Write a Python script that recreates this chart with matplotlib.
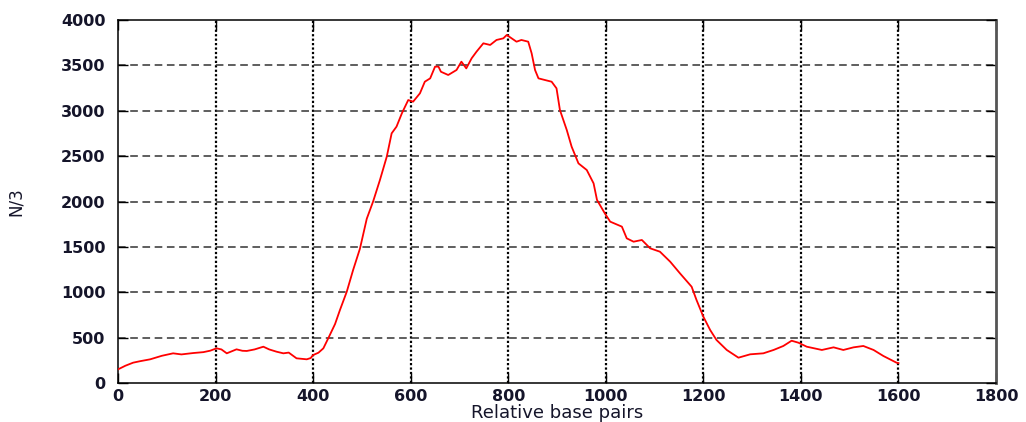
import matplotlib
matplotlib.use("Agg")
import matplotlib.pyplot as plt

# Data
base_pairs = [0, 15, 31, 45, 66, 90, 113, 130, 154, 175, 189, 202, 212, 223, 243, 255,
              264, 280, 298, 310, 325, 339, 350, 366, 387, 395, 400, 411, 421, 431, 445,
              455, 469, 482, 496, 510, 523, 537, 551, 561, 571, 582, 595, 605, 619, 629,
              640, 650, 657, 662, 677, 694, 704, 714, 725, 735, 749, 763, 776, 790, 797,
              807, 817, 827, 841, 848, 855, 862, 875, 889, 899, 906, 920, 930, 944, 961,
              975, 982, 998, 1009, 1033, 1043, 1057, 1074, 1091, 1111, 1132, 1152, 1176,
              1186, 1200, 1214, 1227, 1248, 1272, 1296, 1323, 1344, 1364, 1381, 1395,
              1412, 1443, 1467, 1487, 1508, 1528, 1549, 1569, 1596, 1600]
n3_values = [150, 190, 224, 240, 261, 300, 327, 315, 330, 340, 356, 382, 370, 327, 371, 355,
             353, 370, 400, 370, 345, 327, 335, 272, 261, 275, 308, 334, 382, 492, 650,
             804, 1006, 1245, 1480, 1810, 2000, 2237, 2494, 2751, 2825, 2972, 3118, 3100, 3192, 3320,
             3357, 3486, 3486, 3430, 3394, 3449, 3541, 3467, 3578, 3651, 3743, 3725, 3780, 3798, 3835,
             3798, 3761, 3780, 3761, 3633, 3449, 3357, 3339, 3320, 3247, 3008, 2788, 2604, 2420, 2347,
             2200, 2017, 1870, 1778, 1723, 1594, 1557, 1576, 1484, 1447, 1337, 1209, 1061,
             915, 731, 584, 474, 364, 279, 316, 327, 364, 408, 466, 444,
             400, 364, 393, 364, 393, 408, 364, 298, 224, 220]
x_ticks = [0, 200, 400, 600, 800, 1000, 1200, 1400, 1600, 1800]
y_ticks = [0, 500, 1000, 1500, 2000, 2500, 3000, 3500, 4000]
x_label = "Relative base pairs"
y_label = "N/3"

plt.rcParams['font.family'] = ['DejaVu Sans']
fig = plt.figure(figsize=(10.26, 4.22), dpi=100)
ax = fig.add_axes([118/1026, 39/422, 878/1026, 363/422])
ax.plot(base_pairs, n3_values, color='red', lw=1.3, zorder=3)

ax.set_xlim(0, 1800)
ax.set_ylim(0, 4000)
ax.set_xticks(x_ticks)
ax.set_yticks(y_ticks)

# grid: vertical dotted, horizontal dashed
for xv in x_ticks[1:-1]:
    ax.axvline(xv, color='black', lw=1.6, linestyle=(0, (1, 1)), zorder=1)
for yv in y_ticks[1:-1]:
    ax.axhline(yv, color='#333333', lw=1.1, linestyle=(0, (5, 3)), zorder=1)

ax.tick_params(direction='in', length=7, width=1, top=True, right=True,
               labelsize=11.5, labelcolor='#15152a', pad=4)
ax.tick_params(axis='y', pad=9)
for lab in ax.get_xticklabels() + ax.get_yticklabels():
    lab.set_fontweight('bold')
for sp in ax.spines.values():
    sp.set_linewidth(1.1)
ax.spines['right'].set_color('#555555')
ax.spines['right'].set_linewidth(2)

ax.set_xlabel(x_label, fontsize=13, color='#15152a', labelpad=0)
ax.set_ylabel(y_label, fontsize=12, color='#15152a', labelpad=26)

fig.savefig("out.png", dpi=100)
